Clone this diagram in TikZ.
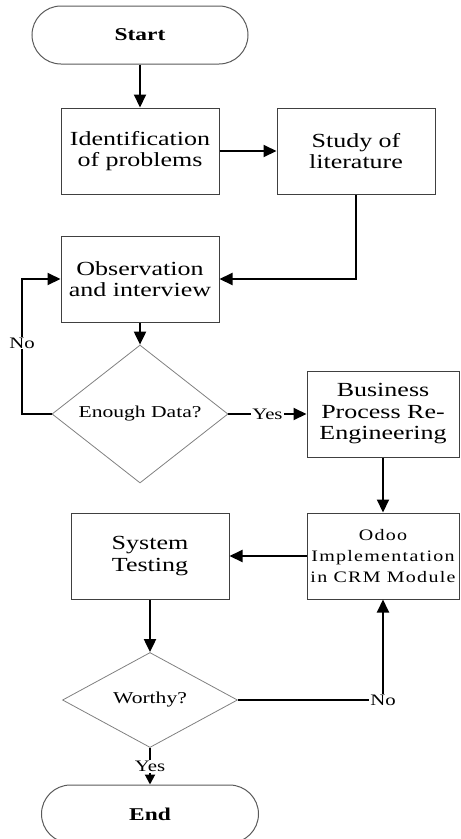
\documentclass[tikz,border=0pt]{standalone}
\usepackage{fontspec}
\setmainfont{Liberation Serif}[FakeStretch=1.3]
\newfontfamily\odoofont{Liberation Serif}[FakeStretch=1.25,LetterSpace=8]
\usetikzlibrary{shapes.geometric,arrows.meta}
\begin{document}
\begin{tikzpicture}[x=1pt,y=-1pt,
  box/.style={draw=black!75, line width=1pt, fill=white, align=center,
    minimum width=158pt, minimum height=86pt, inner sep=2pt,
    font=\fontsize{20}{21.5}\selectfont},
  term/.style={draw=black!65, line width=1pt, rounded corners=29pt,
    minimum width=216pt, minimum height=58pt,
    font=\bfseries\fontsize{18}{20}\selectfont},
  decision/.style={diamond, draw=black!50, line width=0.8pt,
    minimum width=176pt, minimum height=97pt, inner sep=0pt,
    font=\fontsize{16.6}{18}\selectfont},
  flow/.style={line width=2pt, -{Triangle[length=13pt,width=12pt]}},
  lbl/.style={fill=white, inner sep=1pt, font=\fontsize{16}{17}\selectfont}]
\useasboundingbox (0,0) rectangle (461,839);

\node[term] (start) at (140,35) {Start};
\node[box] (ident) at (140,151) {Identification\\of problems};
\node[box] (study) at (356,151) {Study of\\literature};
\node[box] (obs) at (140,279) {Observation\\and interview};
\node[decision] (dec1) at (140,414) {Enough Data?};
\node[box, minimum width=152pt] (bpr) at (383,414) {Business\\Process Re-\\Engineering};
\node[box, minimum width=152pt, font={\odoofont\fontsize{16}{21}\selectfont}] (odoo) at (383,556) {Odoo\\Implementation\\in CRM Module};
\node[box] (sys) at (150,556) {System\\Testing};
\node[decision, minimum width=175pt, minimum height=95pt] (dec2) at (150,700) {Worthy?};
\node[term, minimum width=217pt] (end) at (150,814) {End};

\coordinate (loop) at (22,414);

\draw[flow] (start) -- (ident);
\draw[flow] (ident) -- (study);
\draw[flow] (study.south) |- (obs.east);
\draw[flow] (obs) -- (dec1);
\draw[flow] (dec1.west) -- (loop) |- (obs.west);
\node[lbl] (no1) at (22,343) {No};
\draw[flow] (dec1.east) -- node[lbl] (yes1) {Yes} (bpr.west);
\draw[flow] (bpr) -- (odoo);
\draw[flow] (odoo) -- (sys);
\draw[flow] (sys) -- (dec2);
\draw[flow] (dec2.east) -| node[lbl, pos=0.5] (no2) {No} (odoo.south);
\draw[line width=2pt, -{Triangle[length=10pt,width=10pt]}] (dec2) -- node[lbl] (yes2) {Yes} (end);
\end{tikzpicture}
\end{document}
